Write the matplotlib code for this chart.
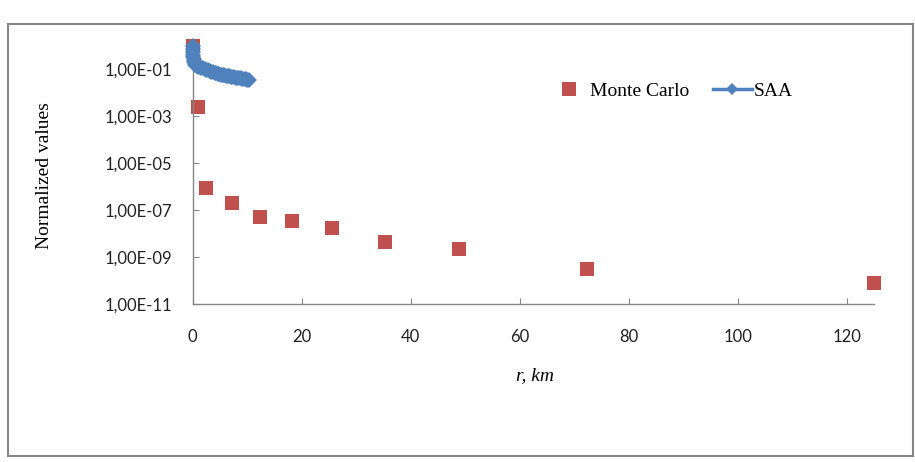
import numpy as np
import matplotlib
matplotlib.use("Agg")
import matplotlib.pyplot as plt
from matplotlib.patches import Rectangle
from matplotlib.lines import Line2D
from matplotlib.ticker import FixedLocator, NullLocator

# Monte Carlo points (r in km, normalized value)
mc_r = [0.0, 1.0, 2.4, 7.2, 12.4, 18.3, 25.5, 35.3, 48.9, 72.3, 125.0]
mc_val = [1.0, 2.5e-3, 8.7e-7, 2.1e-7, 5.0e-8, 3.3e-8, 1.8e-8, 4.4e-9, 2.2e-9, 3.0e-10, 7.9e-11]

# SAA curve
saa_r = [0.00, 0.02, 0.05, 0.08, 0.12, 0.17, 0.23, 0.30, 0.40, 0.50, 0.65, 0.80,
         1.0, 1.3, 1.6, 1.9, 2.2, 2.5, 2.8, 3.1, 3.4, 3.7, 4.0, 4.3, 4.6, 4.9,
         5.2, 5.5, 5.8, 6.1, 6.4, 6.7, 7.0, 7.3, 7.6, 7.9, 8.2, 8.5, 8.8, 9.1,
         9.4, 9.7, 10.0, 10.3]
saa_val = [1.0, 0.75, 0.55, 0.42, 0.33, 0.27, 0.23, 0.20, 0.18, 0.16, 0.15, 0.14,
           0.13, 0.125, 0.12, 0.115, 0.105, 0.098, 0.092, 0.086, 0.081, 0.076, 0.072, 0.068, 0.065, 0.062,
           0.059, 0.057, 0.055, 0.053, 0.051, 0.050, 0.049, 0.048, 0.046, 0.045, 0.044, 0.042, 0.041, 0.040,
           0.038, 0.037, 0.036, 0.034]

y_ticks = [1e-11, 1e-9, 1e-7, 1e-5, 1e-3, 1e-1]
y_labels = ["1,00E-11", "1,00E-09", "1,00E-07", "1,00E-05", "1,00E-03", "1,00E-01"]
x_ticks = [0, 20, 40, 60, 80, 100, 120]

red = "#C0504D"
blue = "#4F81BD"
grey = "#868686"

W, H = 915, 462
fig = plt.figure(figsize=(W / 100, H / 100), dpi=100)

# outer chart frame
fig.patches.append(Rectangle((7.5 / W, 1 - 456 / H), (913 - 7.5) / W, (456 - 24) / H,
                             transform=fig.transFigure, fill=False, edgecolor=grey, linewidth=1.5))

ax = fig.add_axes([192.7 / W, 1 - 304 / H, (874 - 192.7) / W, (304 - 45.9) / H])
ax.set_yscale("log")
ax.set_xlim(0, 125)
ax.set_ylim(1e-11, 1)

ax.plot(saa_r, saa_val, color=blue, linewidth=3, marker="D", markersize=8,
        markeredgewidth=0, clip_on=False, zorder=3)
ax.plot(mc_r, mc_val, linestyle="none", marker="s", markersize=10.5, color=red,
        markeredgewidth=0, clip_on=False, zorder=2)

for s in ["top", "right"]:
    ax.spines[s].set_visible(False)
for s in ["left", "bottom"]:
    ax.spines[s].set_color(grey)
    ax.spines[s].set_linewidth(1.0)

ax.yaxis.set_major_locator(FixedLocator(y_ticks))
ax.yaxis.set_minor_locator(NullLocator())
ax.set_yticklabels(y_labels)
ax.set_xticks(x_ticks)
ax.tick_params(axis="both", direction="in", length=4, color=grey, labelsize=12)
ax.tick_params(axis="x", pad=18)
ax.tick_params(axis="y", pad=15)
for lab in ax.get_xticklabels() + ax.get_yticklabels():
    lab.set_fontfamily("Lato")
    lab.set_color("#222222")

ax.set_ylabel("Normalized values", fontfamily="Liberation Serif", fontsize=14)
ax.yaxis.set_label_coords((53 - 192.7) / (874 - 192.7), (304 - 176) / (304 - 45.9))
ax.set_xlabel("r, km", fontfamily="Liberation Serif", fontstyle="italic", fontsize=14)
ax.xaxis.set_label_coords(0.502, (304 - 367) / (304 - 45.9))

handles = [
    Line2D([], [], linestyle="none", marker="s", markersize=10, color=red, markeredgewidth=0),
    Line2D([], [], color=blue, linewidth=2.5, marker="D", markersize=6.5, markeredgewidth=0),
]
leg = ax.legend(handles, ["Monte Carlo", "SAA"], ncol=2, frameon=False,
                loc="center", bbox_to_anchor=(0.702, 0.825),
                prop={"family": "Liberation Serif", "size": 14},
                handlelength=2.0, handletextpad=0.1, columnspacing=1.2)

fig.savefig("out.png", dpi=100)
